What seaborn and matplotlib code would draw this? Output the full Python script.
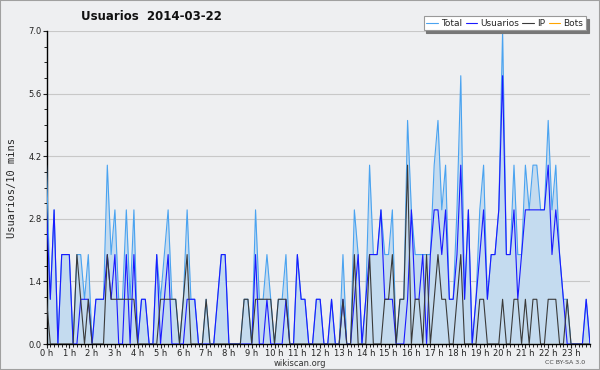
import numpy as np
import pandas as pd
import matplotlib
matplotlib.use("Agg")
import matplotlib.pyplot as plt
import seaborn as sns
from matplotlib.patches import Rectangle
from matplotlib.ticker import MultipleLocator, FixedLocator

# ---- data (10-minute intervals, 2014-03-22) ----
hour_labels = [f"{h} h" for h in range(24)]

usuarios = [3, 1, 3, 0, 2, 2,   2, 0, 0, 1, 1, 1,   0, 1, 1, 1, 2, 1,   2, 0, 0, 2, 0, 2,
            0, 1, 1, 0, 0, 2,   0, 1, 2, 0, 0, 0,   0, 1, 1, 1, 0, 0,   0, 0, 0, 1, 2, 2,
            0, 0, 0, 0, 0, 0,   0, 2, 0, 0, 1, 0,   0, 0, 0, 1, 0, 0,   2, 1, 1, 0, 0, 1,
            1, 0, 0, 1, 0, 0,   1, 0, 0, 1, 2, 0,   1, 2, 2, 2, 3, 1,   1, 1, 0, 0, 0, 1,
            3, 1, 1, 2, 0, 2,   3, 3, 2, 3, 1, 1,   2, 4, 1, 3, 0, 1,   2, 3, 1, 2, 2, 3,
            6, 2, 2, 3, 1, 2,   3, 3, 3, 3, 3, 3,   4, 2, 3, 2, 1, 0,   0, 0, 0, 0, 1, 0]

ip = [1, 0, 0, 0, 0, 0,   0, 0, 2, 1, 0, 1,   0, 0, 0, 0, 2, 1,   1, 1, 1, 1, 1, 1,
      0, 0, 0, 0, 0, 0,   1, 1, 1, 1, 1, 0,   1, 2, 0, 0, 0, 0,   1, 0, 0, 0, 0, 0,
      0, 0, 0, 0, 1, 1,   0, 1, 1, 1, 1, 1,   0, 1, 1, 1, 0, 0,   0, 0, 0, 0, 0, 0,
      0, 0, 0, 0, 0, 0,   1, 0, 0, 2, 0, 0,   0, 2, 0, 0, 0, 1,   1, 2, 0, 1, 1, 4,
      0, 1, 1, 0, 2, 0,   1, 2, 1, 1, 0, 0,   1, 2, 0, 0, 0, 0,   1, 1, 0, 0, 0, 0,
      1, 0, 0, 1, 1, 0,   1, 0, 1, 1, 0, 0,   1, 1, 1, 0, 0, 1,   0, 0, 0, 0, 0, 0]

total = [4, 1, 3, 0, 2, 2,   2, 0, 2, 2, 1, 2,   0, 1, 1, 1, 4, 2,   3, 1, 1, 3, 1, 3,
         0, 1, 1, 0, 0, 2,   1, 2, 3, 1, 1, 0,   1, 3, 1, 1, 0, 0,   1, 0, 0, 1, 2, 2,
         0, 0, 0, 0, 1, 1,   0, 3, 1, 1, 2, 1,   0, 1, 1, 2, 0, 0,   2, 1, 1, 0, 0, 1,
         1, 0, 0, 1, 0, 0,   2, 0, 0, 3, 2, 0,   1, 4, 2, 2, 3, 2,   2, 3, 0, 1, 1, 5,
         3, 2, 2, 2, 2, 2,   4, 5, 3, 4, 1, 1,   3, 6, 1, 3, 0, 1,   3, 4, 1, 2, 2, 3,
         7, 2, 2, 4, 2, 2,   4, 3, 4, 4, 3, 3,   5, 3, 4, 2, 1, 1,   0, 0, 0, 0, 1, 0]

bots = [0] * 144

steps = np.arange(len(total))

# ---- style ----
sns.set_style("white")
plt.rcParams['font.family'] = ['DejaVu Sans']

BG = "#eeeff1"
fig = plt.figure(figsize=(6.0, 3.7), dpi=100, facecolor=BG)
ax = fig.add_axes([46.5 / 600, 1 - 344 / 370, (590 - 46.5) / 600, (344 - 31) / 370])
ax.set_facecolor(BG)

c_total = "#4aa3f0"
c_fill = "#c4dbef"
c_usu = "#1a1aff"
c_ip = "#3a3a3a"
c_bots = "#ffa500"

LW = 0.8
ax.fill_between(steps, total, 0, color=c_fill, lw=0, zorder=1)
sns.lineplot(x=steps, y=bots, ax=ax, color=c_bots, lw=LW, label="Bots", zorder=2)
sns.lineplot(x=steps, y=total, ax=ax, color=c_total, lw=LW, label="Total", zorder=3)
sns.lineplot(x=steps, y=usuarios, ax=ax, color=c_usu, lw=LW, label="Usuarios", zorder=4)
sns.lineplot(x=steps, y=ip, ax=ax, color=c_ip, lw=LW, label="IP", zorder=5)

ax.set_xlim(0, 143)
ax.set_ylim(0, 7.0)

# y axis
ax.yaxis.set_major_locator(FixedLocator([0, 1.4, 2.8, 4.2, 5.6, 7.0]))
ax.yaxis.set_minor_locator(MultipleLocator(0.35))
ax.set_yticklabels(["0.0", "1.4", "2.8", "4.2", "5.6", "7.0"])
ax.grid(axis="y", color="#c8c8c8", lw=0.8, zorder=0)
ax.set_axisbelow(True)

# x axis
ax.set_xticks(np.arange(0, 144, 6))
ax.set_xticklabels(hour_labels)
ax.xaxis.set_minor_locator(MultipleLocator(1))

ax.tick_params(axis="both", which="major", labelsize=6, colors="#222222",
               length=3, width=0.8, pad=0.5, direction="out")
ax.tick_params(axis="both", which="minor", length=2, width=0.7, color="#222222",
               direction="out")
ax.tick_params(axis="x", which="both", bottom=True)
ax.tick_params(axis="y", which="both", left=True)

for s in ["top", "right"]:
    ax.spines[s].set_visible(False)
for s in ["left", "bottom"]:
    ax.spines[s].set_color("black")
    ax.spines[s].set_linewidth(1.0)

ax.set_xlabel("")
ax.set_ylabel("Usuarios/10 mins", family="DejaVu Sans Mono", fontsize=7.5,
              labelpad=8)

# legend
handles, labels = ax.get_legend_handles_labels()
order = ["Total", "Usuarios", "IP", "Bots"]
hmap = dict(zip(labels, handles))
leg = ax.legend([hmap[k] for k in order], order, ncol=4, loc="upper right",
                bbox_to_anchor=(586 / 600, 1 - 16 / 370), bbox_transform=fig.transFigure,
                frameon=True, fancybox=False, shadow={"color": "#777777", "alpha": 1.0},
                edgecolor="#999999", facecolor="white", framealpha=1.0,
                fontsize=6.5, handlelength=1.3, handletextpad=0.35, columnspacing=0.35,
                borderpad=0.3, borderaxespad=0)
leg.get_frame().set_linewidth(0.8)

# title and footer
fig.text(151 / 600, 1 - 17 / 370, "Usuarios  2014-03-22", ha="center", va="center",
         fontsize=8.5, fontweight="bold", color="#111111")
fig.text(300 / 600, 1 - 363.5 / 370, "wikiscan.org", ha="center", va="center",
         fontsize=6, color="#333333")
fig.text(565 / 600, 1 - 363 / 370, "CC BY-SA 3.0", ha="center", va="center",
         fontsize=4.5, color="#444444")

# outer border
fig.patches.append(Rectangle((0, 0), 1, 1, transform=fig.transFigure, fill=False,
                             edgecolor="#a0a0a0", lw=1.5))

fig.savefig("out.png", dpi=100, facecolor=BG)
